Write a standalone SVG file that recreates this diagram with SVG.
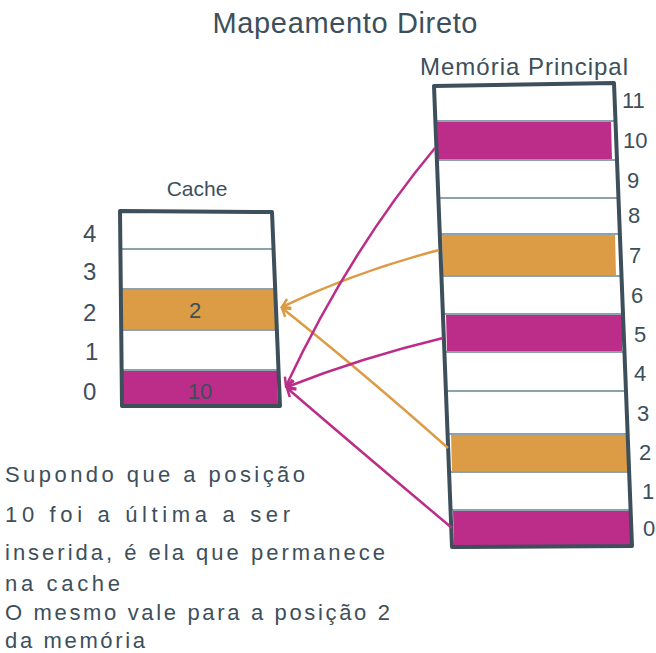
<svg xmlns="http://www.w3.org/2000/svg" width="656" height="653" viewBox="0 0 656 653">
<defs>
<style>
.t{font-family:"Liberation Sans",Arial,sans-serif;fill:#3d4f5b}
.box{fill:none;stroke:#3d4f5b;stroke-width:4;stroke-linejoin:round}
.row{stroke:#8ca2ae;stroke-width:2;fill:none}
.mag{fill:#bb2d88}
.org{fill:#dc9b45}
.cm{fill:none;stroke:#bb2d88;stroke-width:2.5}
.co{fill:none;stroke:#dc9b45;stroke-width:2.5}
</style>
<marker id="am" markerWidth="12" markerHeight="12" refX="10" refY="6" orient="auto" markerUnits="userSpaceOnUse"><path d="M2,1 L10,6 L2,11" fill="none" stroke="#bb2d88" stroke-width="2.5"/></marker>
<marker id="ao" markerWidth="12" markerHeight="12" refX="10" refY="6" orient="auto" markerUnits="userSpaceOnUse"><path d="M2,1 L10,6 L2,11" fill="none" stroke="#dc9b45" stroke-width="2.5"/></marker>
</defs>
<rect width="656" height="653" fill="#ffffff"/>
<text class="t" x="345" y="33" font-size="29" text-anchor="middle" textLength="265">Mapeamento Direto</text>

<g id="memoria">
<text class="t" x="524" y="75" font-size="24" text-anchor="middle" textLength="208">Memória Principal</text>
<polygon class="mag" points="437,121 611,121 612,160 438,160"/>
<polygon class="org" points="442,234 615,234 616,276 443,276"/>
<polygon class="mag" points="446,314 622,314 622,352 447,352"/>
<polygon class="org" points="451,434 628,434 628,472 452,472"/>
<polygon class="mag" points="453,510 630,510 630,547 454,547"/>
<line class="row" x1="435" y1="121" x2="615" y2="121"/>
<line class="row" x1="437" y1="160" x2="617" y2="160"/>
<line class="row" x1="438" y1="198" x2="618" y2="198"/>
<line class="row" x1="440" y1="234" x2="620" y2="234"/>
<line class="row" x1="441" y1="276" x2="621" y2="276"/>
<line class="row" x1="443" y1="314" x2="623" y2="314"/>
<line class="row" x1="444" y1="352" x2="624" y2="352"/>
<line class="row" x1="446" y1="391" x2="626" y2="391"/>
<line class="row" x1="448" y1="434" x2="628" y2="434"/>
<line class="row" x1="449" y1="472" x2="629" y2="472"/>
<line class="row" x1="451" y1="510" x2="631" y2="510"/>
<polygon class="box" points="434,86 614,83 632,546 452,547"/>
<g class="t" font-size="22">
<text x="622" y="108">11</text>
<text x="623" y="148">10</text>
<text x="627" y="188">9</text>
<text x="628" y="223">8</text>
<text x="629" y="263">7</text>
<text x="631" y="303">6</text>
<text x="634" y="342">5</text>
<text x="634" y="381">4</text>
<text x="637" y="421">3</text>
<text x="639" y="460">2</text>
<text x="642" y="499">1</text>
<text x="643" y="536">0</text>
</g>
</g>

<g id="cache">
<text class="t" x="197" y="196" font-size="21" text-anchor="middle">Cache</text>
<polygon class="org" points="122,289 275,289 276,330 123,330"/>
<polygon class="mag" points="123,370 277,370 278,405 123,405"/>
<line class="row" x1="121" y1="249" x2="273" y2="249"/>
<line class="row" x1="121" y1="289" x2="275" y2="289"/>
<line class="row" x1="121" y1="330" x2="277" y2="330"/>
<line class="row" x1="121" y1="370" x2="278" y2="370"/>
<polygon class="box" points="120,211 272,212 280,406 122,406"/>
<text class="t" x="195" y="318" font-size="22" text-anchor="middle">2</text>
<text class="t" x="200" y="399" font-size="22" text-anchor="middle">10</text>
<g class="t" font-size="24">
<text x="83" y="242">4</text>
<text x="83" y="280">3</text>
<text x="83" y="321">2</text>
<text x="85" y="360">1</text>
<text x="83" y="400">0</text>
</g>
</g>

<g id="conectores">
<path class="co" d="M439,250 Q355,272 282,307" marker-end="url(#ao)"/>
<path class="co" d="M448,448 Q360,370 282,308" marker-end="url(#ao)"/>
<path class="cm" d="M435,148 Q350,250 286,386" marker-end="url(#am)"/>
<path class="cm" d="M443,338 Q360,358 287,387" marker-end="url(#am)"/>
<path class="cm" d="M452,528 Q365,455 287,388" marker-end="url(#am)"/>
</g>

<g id="nota" class="t" font-size="22">
<text x="5" y="482" textLength="300">Supondo que a posição</text>
<text x="5" y="522" textLength="285">10 foi a última a ser</text>
<text x="5" y="560" textLength="380">inserida, é ela que permanece</text>
<text x="5" y="591" textLength="115">na cache</text>
<text x="5" y="620" textLength="385">O mesmo vale para a posição 2</text>
<text x="5" y="648" textLength="140">da memória</text>
</g>
</svg>
